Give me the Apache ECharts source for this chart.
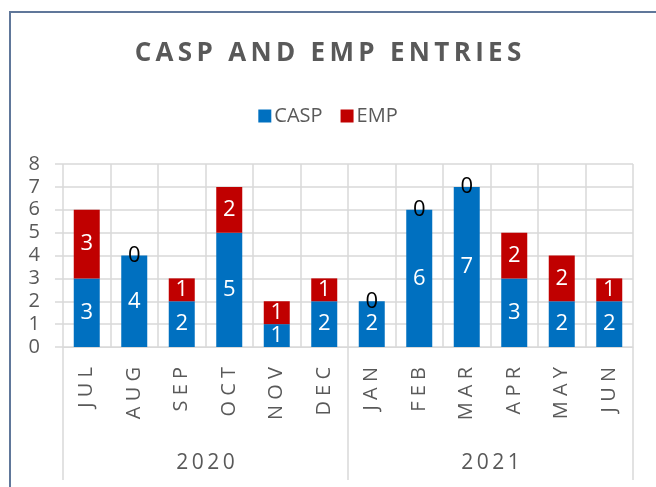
<!DOCTYPE html>
<html>
<head>
<meta charset="utf-8">
<script src="https://cdn.jsdelivr.net/npm/echarts@6/dist/echarts.min.js"></script>
<style>
    html, body { margin: 0; padding: 0; background: #ffffff; }
    #chart { width: 656px; height: 487px; }
</style>
</head>
<body>
<div id="chart"></div>
<script>
const months = ["JUL", "AUG", "SEP", "OCT", "NOV", "DEC", "JAN", "FEB", "MAR", "APR", "MAY", "JUN"];
const years = ["2020", "2021"];
const caspValues = [3, 4, 2, 5, 1, 2, 2, 6, 7, 3, 2, 2];
const empValues = [3, 0, 1, 2, 1, 1, 0, 0, 0, 2, 2, 1];
const yTicks = [0, 1, 2, 3, 4, 5, 6, 7, 8];

const TEXT = "#595959";
const GRID = "#d9d9d9";
const FONT = "'Open Sans', sans-serif";

// excel-like letter spacing
function spaced(s, gap) {
    return s.split("").join(gap);
}

// zero-valued segments get a black label at the top of the stack
function withLabels(values) {
    return values.map((v) => ({
        value: v,
        label: v === 0 ? { color: "#000000" } : undefined
    }));
}

const chart = echarts.init(document.getElementById("chart"));

chart.setOption({
    animation: false,
    title: {
        text: spaced("CASP AND EMP ENTRIES", "\u2009"),
        left: "center",
        top: 36,
        textStyle: { color: TEXT, fontFamily: FONT, fontWeight: "bold", fontSize: 26 }
    },
    legend: {
        top: 101,
        left: "center",
        itemWidth: 13,
        itemHeight: 13,
        itemGap: 18,
        icon: "rect",
        textStyle: { color: TEXT, fontFamily: FONT, fontSize: 20, padding: [0, 0, 0, -2] },
        data: ["CASP", "EMP"]
    },
    graphic: [{
        type: "rect",
        shape: { x: 10, y: 12, width: 700, height: 520 },
        style: { fill: "none", stroke: "#60779a", lineWidth: 2 }
    }],
    grid: { left: 63, right: 23, top: 164, bottom: 140 },
    xAxis: [{
        type: "category",
        data: months,
        axisLine: { lineStyle: { color: GRID } },
        axisTick: { show: false },
        splitLine: { show: true, lineStyle: { color: GRID, width: 1.5 } },
        axisLabel: {
            rotate: 90,
            margin: 20,
            color: TEXT,
            fontFamily: FONT,
            fontSize: 20,
            formatter: (v) => spaced(v, " ")
        }
    }, {
        type: "category",
        data: years,
        position: "bottom",
        axisLine: { show: false },
        axisTick: { show: true, length: 133, lineStyle: { color: GRID, width: 1.5 } },
        axisLabel: {
            margin: 106,
            color: TEXT,
            fontFamily: FONT,
            fontSize: 21,
            formatter: (v) => spaced(v, "\u2009")
        }
    }],
    yAxis: {
        type: "value",
        min: yTicks[0],
        max: yTicks[yTicks.length - 1],
        interval: 1,
        axisLine: { show: false },
        axisTick: { show: true, length: 8, lineStyle: { color: GRID, width: 1.5 } },
        splitLine: { lineStyle: { color: GRID, width: 1.5 } },
        axisLabel: { color: TEXT, fontFamily: FONT, fontSize: 20, margin: 23 }
    },
    series: [{
        name: "CASP",
        type: "bar",
        stack: "total",
        barWidth: 26,
        itemStyle: { color: "#0070c0" },
        label: { show: true, position: "inside", color: "#ffffff", fontFamily: FONT, fontSize: 22 },
        data: withLabels(caspValues)
    }, {
        name: "EMP",
        type: "bar",
        stack: "total",
        barWidth: 26,
        itemStyle: { color: "#c00000" },
        label: { show: true, position: "inside", color: "#ffffff", fontFamily: FONT, fontSize: 22 },
        data: withLabels(empValues)
    }]
});
</script>
</body>
</html>
